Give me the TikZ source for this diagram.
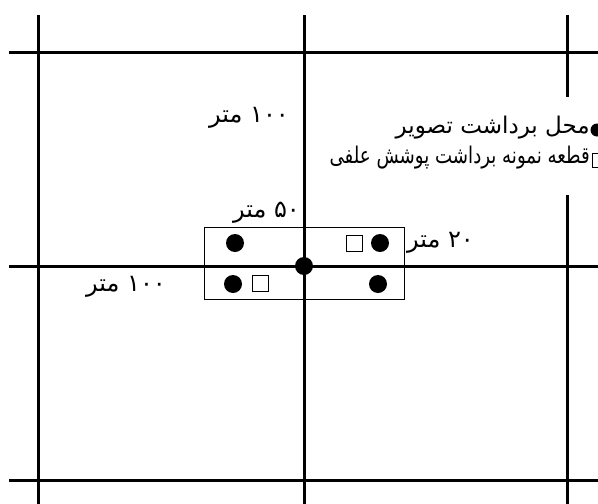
\documentclass[tikz,border=0pt]{standalone}
\usepackage{fontspec}
\newfontfamily\arabicfont[Script=Arabic]{DejaVu Sans}
\TeXXeTstate=1
\begin{document}
\begin{tikzpicture}[x=1pt,y=-1pt,
  grid/.style={line width=3pt,black},
  frame/.style={line width=0.8pt,black},
  dotpt/.style={circle,fill=black,inner sep=0pt,minimum size=18pt},
  sq/.style={draw,line width=0.8pt,fill=white,inner sep=0pt,minimum size=16pt},
  lbl/.style={font=\arabicfont\fontsize{24}{28}\selectfont,inner sep=0pt},
  leg/.style={font=\arabicfont\fontsize{23}{27}\selectfont,inner sep=0pt}]
\useasboundingbox (0,0) rectangle (598,504);
% grid
\coordinate (h1a) at (9,52);   \coordinate (h1b) at (598,52);
\coordinate (h2a) at (9,266);  \coordinate (h2b) at (598,266);
\coordinate (h3a) at (9,480);  \coordinate (h3b) at (598,480);
\coordinate (v1a) at (38,15);  \coordinate (v1b) at (38,504);
\coordinate (v2a) at (304,15); \coordinate (v2b) at (304,504);
\coordinate (v3a) at (567,15); \coordinate (v3b) at (567,97);
\coordinate (v3c) at (567,195);\coordinate (v3d) at (567,504);
\draw[grid] (h1a) -- (h1b);
\draw[grid] (h2a) -- (h2b);
\draw[grid] (h3a) -- (h3b);
\draw[grid] (v1a) -- (v1b);
\draw[grid] (v2a) -- (v2b);
\draw[grid] (v3a) -- (v3b);
\draw[grid] (v3c) -- (v3d);
% sampling rectangle
\draw[frame] (204,227) rectangle (404,299);
\node[dotpt] (c) at (304,266) {};
\node[dotpt] (d1) at (235,243) {};
\node[dotpt] (d2) at (380,243) {};
\node[dotpt] (d3) at (233,284) {};
\node[dotpt] (d4) at (378,284) {};
\node[sq] (s1) at (354,243) {};
\node[sq] (s2) at (260,283) {};
% labels
\node[lbl,anchor=east] (l1) at (289,118) {\beginR ۱۰۰ متر\endR};
\node[lbl,anchor=east] (l2) at (300,213) {\beginR ۵۰ متر\endR};
\node[lbl,anchor=east] (l3) at (474,243) {\beginR ۲۰ متر\endR};
\node[lbl,anchor=east] (l4) at (166,287) {\beginR ۱۰۰ متر\endR};
% legend
\node[circle,fill=black,inner sep=0pt,minimum size=13pt] (ld) at (597,130) {};
\node[leg,anchor=east] (lg1) at (590,128) {\beginR محل برداشت تصویر\endR};
\node[draw,line width=0.8pt,inner sep=0pt,minimum size=14pt] (ls) at (599,160) {};
\node[leg,anchor=east,xscale=0.79,transform shape] (lg2) at (590,158) {\beginR قطعه نمونه برداشت پوشش علفی\endR};
\end{tikzpicture}
\end{document}
